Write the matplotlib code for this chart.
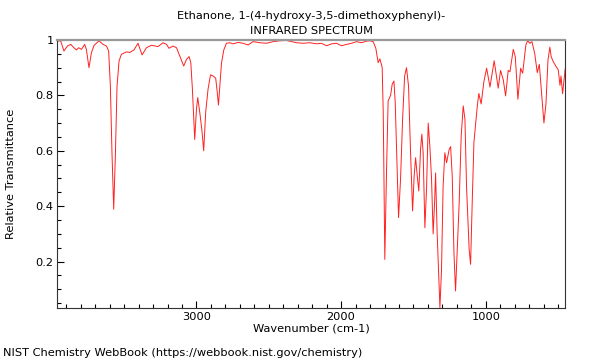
import numpy as np
import matplotlib.pyplot as plt
from matplotlib.ticker import MultipleLocator, FuncFormatter

title = "Ethanone, 1-(4-hydroxy-3,5-dimethoxyphenyl)-\nINFRARED SPECTRUM"
footer = "NIST Chemistry WebBook (https://webbook.nist.gov/chemistry)"

wavenumber = [3957, 3939, 3916, 3892, 3869, 3847, 3830, 3814, 3795, 3773,
              3761, 3743, 3726, 3708, 3674, 3646, 3622, 3607, 3595, 3584,
              3572, 3560, 3549, 3535, 3519, 3484, 3461, 3432, 3404, 3376,
              3346, 3311, 3266, 3231, 3207, 3190, 3162, 3138, 3115, 3088,
              3069, 3051, 3039, 3028, 3012, 3000, 2991, 2977, 2963, 2950,
              2936, 2920, 2903, 2885, 2867, 2858, 2848, 2839, 2827, 2811,
              2793, 2770, 2747, 2712, 2678, 2643, 2609, 2562, 2516, 2470,
              2424, 2378, 2343, 2308, 2263, 2216, 2170, 2136, 2101, 2066,
              2032, 1997, 1963, 1928, 1893, 1859, 1824, 1801, 1779, 1760,
              1744, 1732, 1716, 1709, 1705, 1698, 1686, 1675, 1658, 1647,
              1635, 1626, 1613, 1603, 1589, 1575, 1561, 1548, 1534, 1520,
              1506, 1495, 1485, 1474, 1463, 1451, 1442, 1433, 1421, 1409,
              1398, 1387, 1375, 1364, 1354, 1347, 1336, 1324, 1317, 1306,
              1295, 1283, 1271, 1253, 1243, 1232, 1220, 1209, 1198, 1184,
              1170, 1156, 1144, 1133, 1115, 1105, 1094, 1082, 1059, 1048,
              1032, 1013, 994, 971, 942, 914, 898, 879, 863, 845,
              833, 810, 796, 778, 759, 745, 723, 711, 695, 681,
              662, 644, 630, 612, 598, 584, 570, 557, 548, 534,
              515, 499, 487, 480, 469, 451]
transmittance = [0.996, 0.997, 0.960, 0.978, 0.984, 0.972, 0.964, 0.972, 0.966, 0.984,
                 0.966, 0.900, 0.954, 0.980, 0.997, 0.984, 0.978, 0.960, 0.834, 0.593,
                 0.389, 0.593, 0.834, 0.924, 0.948, 0.957, 0.955, 0.964, 0.988, 0.946,
                 0.972, 0.981, 0.976, 0.990, 0.984, 0.970, 0.978, 0.972, 0.942, 0.906,
                 0.930, 0.940, 0.918, 0.822, 0.641, 0.750, 0.792, 0.738, 0.678, 0.600,
                 0.740, 0.822, 0.874, 0.870, 0.862, 0.820, 0.765, 0.830, 0.916, 0.964,
                 0.988, 0.990, 0.986, 0.991, 0.988, 0.982, 0.994, 0.990, 0.988, 0.994,
                 0.997, 0.998, 0.994, 0.990, 0.988, 0.990, 0.986, 0.988, 0.979, 0.986,
                 0.988, 0.979, 0.984, 0.988, 0.994, 0.990, 0.996, 0.997, 0.994, 0.970,
                 0.918, 0.932, 0.900, 0.740, 0.560, 0.208, 0.530, 0.780, 0.800, 0.840,
                 0.852, 0.774, 0.533, 0.359, 0.500, 0.714, 0.870, 0.900, 0.834, 0.593,
                 0.383, 0.510, 0.575, 0.510, 0.455, 0.605, 0.660, 0.593, 0.322, 0.470,
                 0.700, 0.620, 0.500, 0.300, 0.410, 0.520, 0.300, 0.125, 0.034, 0.170,
                 0.470, 0.593, 0.557, 0.605, 0.615, 0.510, 0.230, 0.094, 0.230, 0.410,
                 0.653, 0.762, 0.714, 0.470, 0.244, 0.190, 0.410, 0.630, 0.760, 0.807,
                 0.769, 0.850, 0.898, 0.830, 0.925, 0.826, 0.890, 0.856, 0.798, 0.890,
                 0.885, 0.966, 0.940, 0.786, 0.898, 0.880, 0.982, 0.997, 0.988, 0.994,
                 0.952, 0.882, 0.912, 0.795, 0.700, 0.770, 0.928, 0.974, 0.940, 0.922,
                 0.905, 0.892, 0.836, 0.870, 0.806, 0.896]

fig = plt.figure(figsize=(6, 3.6), dpi=100)
ax = fig.add_axes([0.095, 0.144, 0.847, 0.745])

ax.plot(wavenumber, transmittance, color="#ff2020", lw=0.7)

ax.set_xlim(3964, 451)
ax.set_ylim(0.032, 1.0)

ax.xaxis.set_major_locator(MultipleLocator(1000))
ax.xaxis.set_minor_locator(MultipleLocator(100))
ax.yaxis.set_major_locator(MultipleLocator(0.2))
ax.yaxis.set_minor_locator(MultipleLocator(0.05))
ax.yaxis.set_major_formatter(FuncFormatter(lambda v, p: "1" if abs(v - 1) < 1e-6 else f"{v:.1f}"))

ax.tick_params(which="both", direction="in", labelsize=8.2, width=0.8)
ax.tick_params(which="major", length=5, pad=2.5)
ax.tick_params(which="minor", length=3)

for s in ["left", "right", "bottom"]:
    ax.spines[s].set_color("#333333")
    ax.spines[s].set_linewidth(0.8)
ax.spines["top"].set_color("#999999")
ax.spines["top"].set_linewidth(1.6)

ax.set_xlabel("Wavenumber (cm-1)", fontsize=8.2, labelpad=1)
ax.set_ylabel("Relative Transmittance", fontsize=8.2, labelpad=14)
ax.set_title(title, fontsize=8.2, linespacing=1.65, pad=4)

fig.text(0.005, 0.01, footer, fontsize=8.2)

fig.savefig("out.png", dpi=100)
